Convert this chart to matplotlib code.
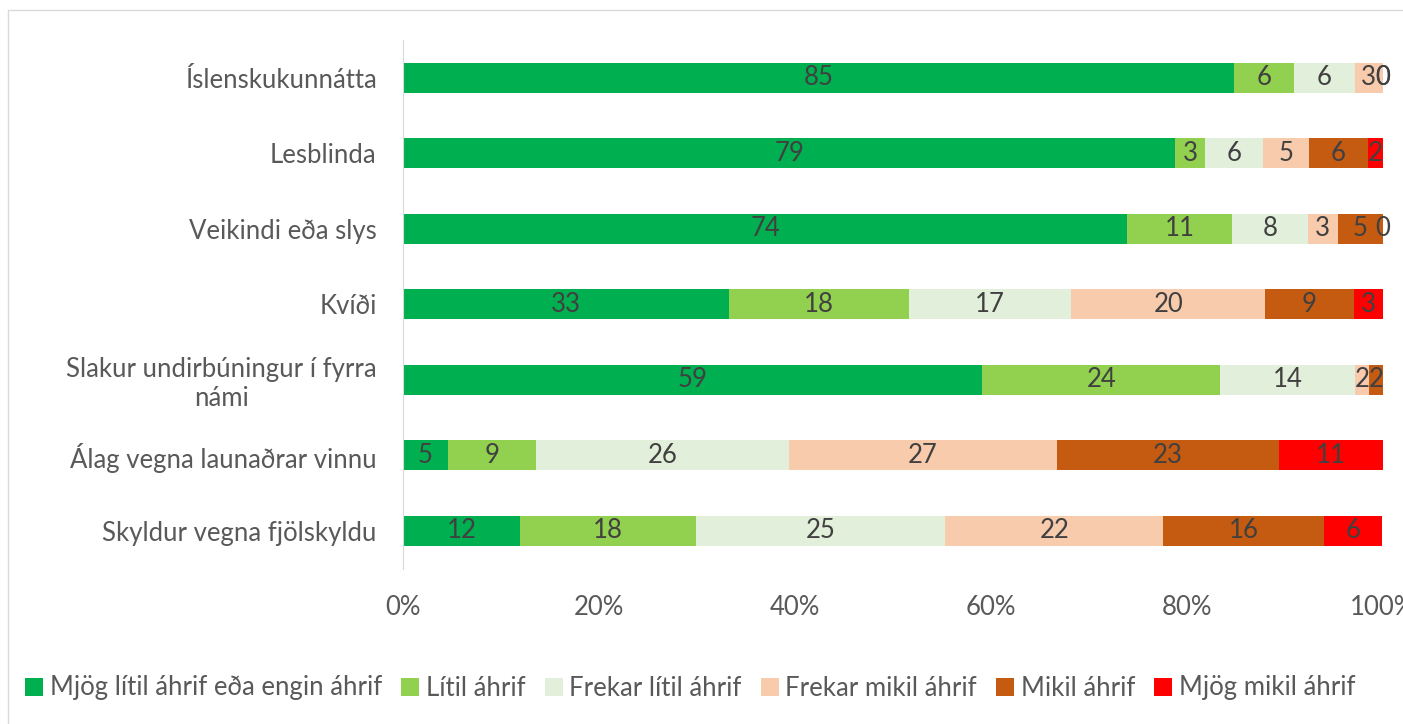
import numpy as np
import matplotlib.pyplot as plt
from matplotlib.patches import Rectangle

categories = ["Íslenskukunnátta", "Lesblinda", "Veikindi eða slys", "Kvíði",
              "Slakur undirbúningur í fyrra\nnámi", "Álag vegna launaðrar vinnu",
              "Skyldur vegna fjölskyldu"]
series_names = ["Mjög lítil áhrif eða engin áhrif", "Lítil áhrif", "Frekar lítil áhrif",
                "Frekar mikil áhrif", "Mikil áhrif", "Mjög mikil áhrif"]
colors = ["#00b050", "#92d050", "#e2efda", "#f8cbad", "#c55a11", "#ff0000"]

mjog_litil = [84.8, 78.8, 73.9, 33.3, 59.1, 4.6, 11.9]
litil = [6.1, 3.0, 10.7, 18.3, 24.3, 9.0, 18.0]
frekar_litil = [6.2, 6.0, 7.7, 16.6, 13.7, 25.8, 25.4]
frekar_mikil = [2.9, 4.6, 3.1, 19.8, 1.5, 27.3, 22.3]
mikil = [0.0, 6.1, 4.6, 9.0, 1.5, 22.7, 16.4]
mjog_mikil = [0.0, 1.5, 0.0, 3.0, 0.0, 10.6, 5.9]

series = [mjog_litil, litil, frekar_litil, frekar_mikil, mikil, mjog_mikil]

plt.rcParams['font.family'] = ['Lato', 'DejaVu Sans']
fs = 18.5

fig = plt.figure(figsize=(14.03, 7.24), dpi=100)
ax = fig.add_axes([403/1403, 1 - 568.5/724, 980/1403, 528.5/724])

y = np.arange(len(categories))
left = np.zeros(len(categories))
for name, vals, c in zip(series_names, series, colors):
    vals = np.array(vals)
    bars = ax.barh(y, vals, left=left, height=0.4, color=c, label=name)
    ax.bar_label(bars, labels=[f"{v:.0f}" for v in vals], label_type="center",
                 fontsize=fs, color="#404040")
    left += vals

ax.set_ylim(len(categories) - 0.5, -0.5)
ax.set_xlim(0, 100)
ax.set_yticks(y)
ax.set_yticklabels(categories, fontsize=fs, color="#595959")
for t in ax.get_yticklabels():
    t.set_multialignment("center")
ax.set_xticks(np.arange(0, 101, 20))
ax.set_xticklabels([f"{v}%" for v in range(0, 101, 20)], fontsize=fs, color="#595959")
ax.tick_params(axis="both", length=0)
ax.tick_params(axis="x", pad=19)
ax.tick_params(axis="y", pad=19)
for s in ["top", "right", "bottom"]:
    ax.spines[s].set_visible(False)
ax.spines["left"].set_color("#d9d9d9")

ax.legend(loc="center", bbox_to_anchor=(0.492, 1 - 688/724), bbox_transform=fig.transFigure,
          ncol=6, frameon=False, fontsize=fs, labelcolor="#595959",
          handlelength=0.7, handleheight=0.7, handletextpad=0.25, columnspacing=0.75)

fig.patches.append(Rectangle((8/1403, -0.1), 1.2, 1 - 10/724 + 0.1, transform=fig.transFigure,
                             fill=False, edgecolor="#d9d9d9", linewidth=1))

plt.savefig("out.png")
